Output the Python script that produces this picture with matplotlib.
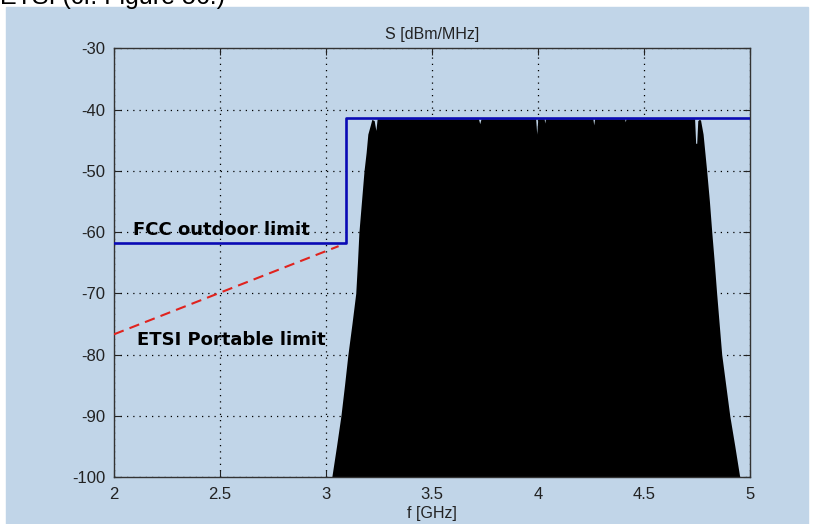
import matplotlib.pyplot as plt
import numpy as np

plt.rcParams['font.family'] = ['Liberation Sans', 'DejaVu Sans']
plt.rcParams['axes.unicode_minus'] = False

# spectrum of the UWB signal (GHz, dBm/MHz)
spec_f = [3.028, 3.05, 3.071, 3.088, 3.104, 3.123, 3.141, 3.149, 3.156, 3.168,
          3.18, 3.19, 3.198, 3.21, 3.217, 3.228, 3.236, 3.242,
          3.72, 3.726, 3.732, 3.99, 3.995, 4.0, 4.03, 4.033, 4.036,
          4.26, 4.264, 4.268, 4.41, 4.413, 4.416, 4.74, 4.745, 4.75, 4.755,
          4.762, 4.768, 4.78, 4.797, 4.81, 4.821, 4.833, 4.844, 4.856,
          4.868, 4.887, 4.906, 4.93, 4.953]
spec_s = [-100, -95, -90, -85, -80, -75, -70, -65, -60, -55,
          -50, -47, -44, -42.5, -41.6, -41.8, -43.4, -41.5,
          -41.5, -42.3, -41.5, -41.5, -44.0, -41.5, -41.5, -42.2, -41.5,
          -41.5, -42.5, -41.5, -41.5, -42.0, -41.5, -41.5, -45.5, -45.5, -41.8,
          -41.6, -41.7, -44, -50, -55, -60, -65, -70, -75,
          -80, -85, -90, -95, -100]

# FCC outdoor mask
fcc_f = [2.0, 3.094, 3.094, 5.0]
fcc_s = [-61.8, -61.8, -41.3, -41.3]

# ETSI portable limit
etsi_f = [2.0, 3.06]
etsi_s = [-76.7, -62.3]

bg = '#c1d5e8'
fig = plt.figure(figsize=(8.14, 5.24), dpi=100, facecolor='white')
fig.patches.append(plt.Rectangle((6 / 814, 0), 802 / 814, 1 - 7 / 524,
                                 transform=fig.transFigure, color=bg, zorder=-10))
fig.text(0.0, 1 - 4 / 524, 'ETSI (cf. Figure 56.)', fontsize=18, va='baseline')

ax = fig.add_axes([0.140, 0.0897, 0.781, 0.818])
ax.set_facecolor(bg)

ax.fill_between(spec_f, -100, spec_s, color='black', lw=0, zorder=2)
ax.plot(fcc_f, fcc_s, color='#0a0ab4', lw=1.9, zorder=3)
ax.plot(etsi_f, etsi_s, color='#e0231e', lw=1.5, dashes=(5, 3), zorder=3)

ax.text(2.09, -59.6, 'FCC outdoor limit', fontsize=13, fontweight='bold',
        family='DejaVu Sans', va='center', zorder=4)
ax.text(2.108, -77.6, 'ETSI Portable limit', fontsize=13, fontweight='bold',
        family='DejaVu Sans', va='center', zorder=4)

ax.set_xlim(2, 5)
ax.set_ylim(-100, -30)
ax.set_xticks(np.arange(2, 5.01, 0.5))
ax.set_xticklabels(['2', '2.5', '3', '3.5', '4', '4.5', '5'])
ax.set_yticks(np.arange(-100, -29, 10))
ax.grid(True, color='black', linestyle=(0, (1, 4)), lw=0.9, zorder=1)
ax.set_axisbelow(True)
ax.tick_params(direction='in', length=5, top=True, right=True,
               labelsize=12, colors='#222222', pad=6)
ax.tick_params(axis='x', pad=7)
for s in ax.spines.values():
    s.set_color('#333333')
    s.set_linewidth(1.0)

ax.set_title('S [dBm/MHz]', fontsize=11.5, color='#222222', pad=7)
ax.set_xlabel('f [GHz]', fontsize=11.5, color='#222222', labelpad=3)

fig.savefig('out.png', dpi=100, facecolor='white')
